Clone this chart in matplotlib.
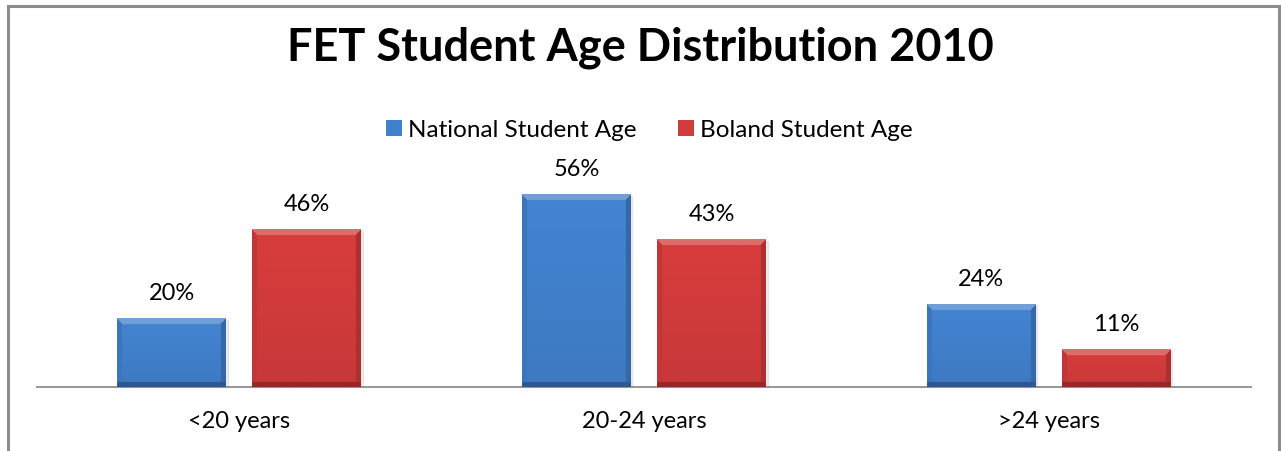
import numpy as np
import matplotlib
matplotlib.use("Agg")
import matplotlib.pyplot as plt
from matplotlib.patches import Rectangle

categories = ["<20 years", "20-24 years", ">24 years"]
national = [20, 56, 24]
boland = [46, 43, 11]
series_names = ["National Student Age", "Boland Student Age"]
series_colors = ["#4180CC", "#D23B3B"]

plt.rcParams["font.family"] = ["Lato", "DejaVu Sans"]

W, H = 1281, 451
fig = plt.figure(figsize=(W / 100, H / 100), dpi=100)

# outer chart frame (no bottom edge visible in the reference)
fig.add_artist(plt.Line2D([8 / W, 8 / W], [0, 1 - 6 / H], color="#8C8C8C", lw=2.2))
fig.add_artist(plt.Line2D([8 / W, 1279 / W], [1 - 6 / H, 1 - 6 / H], color="#8C8C8C", lw=2.2))
fig.add_artist(plt.Line2D([1279 / W, 1279 / W], [0, 1 - 6 / H], color="#8C8C8C", lw=2.2))

# plot area in pixels: x 37..1251, baseline at y=387, 3.43 px per percent
ymax = 60
ax_left, ax_right = 37, 1251
base = 387
ax_h = ymax * 3.43
ax = fig.add_axes([ax_left / W, (H - base) / H, (ax_right - ax_left) / W, ax_h / H])
ax.set_xlim(-0.5, 2.5)
ax.set_ylim(0, ymax)
for s in ["top", "right", "left"]:
    ax.spines[s].set_visible(False)
ax.spines["bottom"].set_color("#8C8C8C")
ax.spines["bottom"].set_linewidth(1.3)
ax.set_yticks([])
x = np.arange(len(categories))
ax.set_xticks(x)
ax.set_xticklabels(categories, fontsize=17)
ax.tick_params(axis="x", length=0, pad=17)

width = 0.269
offset = 0.167


def shade(rgb, f):
    rgb = np.array(rgb)
    if f >= 0:
        return rgb + (1 - rgb) * f
    return rgb * (1 + f)


def bevel_image(color, wpx, hpx, bev=6):
    c = np.array(matplotlib.colors.to_rgb(color))
    wpx, hpx = max(int(wpx), 2), max(int(hpx), 2)
    img = np.zeros((hpx, wpx, 3))
    yy, xx = np.mgrid[0:hpx, 0:wpx]
    # slight vertical gradient in body
    t = yy / max(hpx - 1, 1)
    body = c[None, None, :] * (1.03 - 0.08 * t[..., None])
    img[:] = np.clip(body, 0, 1)
    top = yy < bev
    bottom = (hpx - 1 - yy) < bev * 0.7
    left = xx < bev * 0.8
    right = (wpx - 1 - xx) < bev * 0.8
    img[left] = shade(c, -0.08)
    img[right] = shade(c, -0.18)
    img[bottom] = shade(c, -0.30)
    img[top & (yy <= xx) & (yy <= wpx - 1 - xx)] = shade(c, 0.25)
    return img


for i, (vals, col, name) in enumerate(zip([national, boland], series_colors, series_names)):
    pos = x + (-offset if i == 0 else offset)
    bars = ax.bar(pos, vals, width, color=col, label=name, zorder=2)
    for b, v in zip(bars, vals):
        x0, y0 = b.get_x(), b.get_y()
        bw, bh = b.get_width(), b.get_height()
        # soft shadow
        ax.add_patch(Rectangle((x0 + 0.004, y0), bw, bh - 0.4, color="#000000",
                               alpha=0.07, zorder=1, clip_on=False))
        p0 = ax.transData.transform((x0, y0))
        p1 = ax.transData.transform((x0 + bw, y0 + bh))
        img = bevel_image(col, p1[0] - p0[0], p1[1] - p0[1])
        ax.imshow(img, extent=(x0, x0 + bw, y0, y0 + bh), aspect="auto",
                  zorder=3, interpolation="bilinear")
        ax.text(b.get_x() + bw / 2, bh + 7.3, f"{v}%", ha="center", va="center",
                fontsize=17, color="#000000")

ax.set_xlim(-0.5, 2.5)
ax.set_ylim(0, ymax)

fig.text(640 / W, 1 - 48 / H, "FET Student Age Distribution 2010", ha="center",
         va="center", fontsize=32.5, fontweight="bold")

leg = fig.legend(loc="center", bbox_to_anchor=(649 / W, 1 - 130 / H), ncol=2,
                 frameon=False, fontsize=17.5, handlelength=0.66, handleheight=0.66,
                 handletextpad=0.25, columnspacing=1.7)

fig.savefig("out.png", dpi=100)
